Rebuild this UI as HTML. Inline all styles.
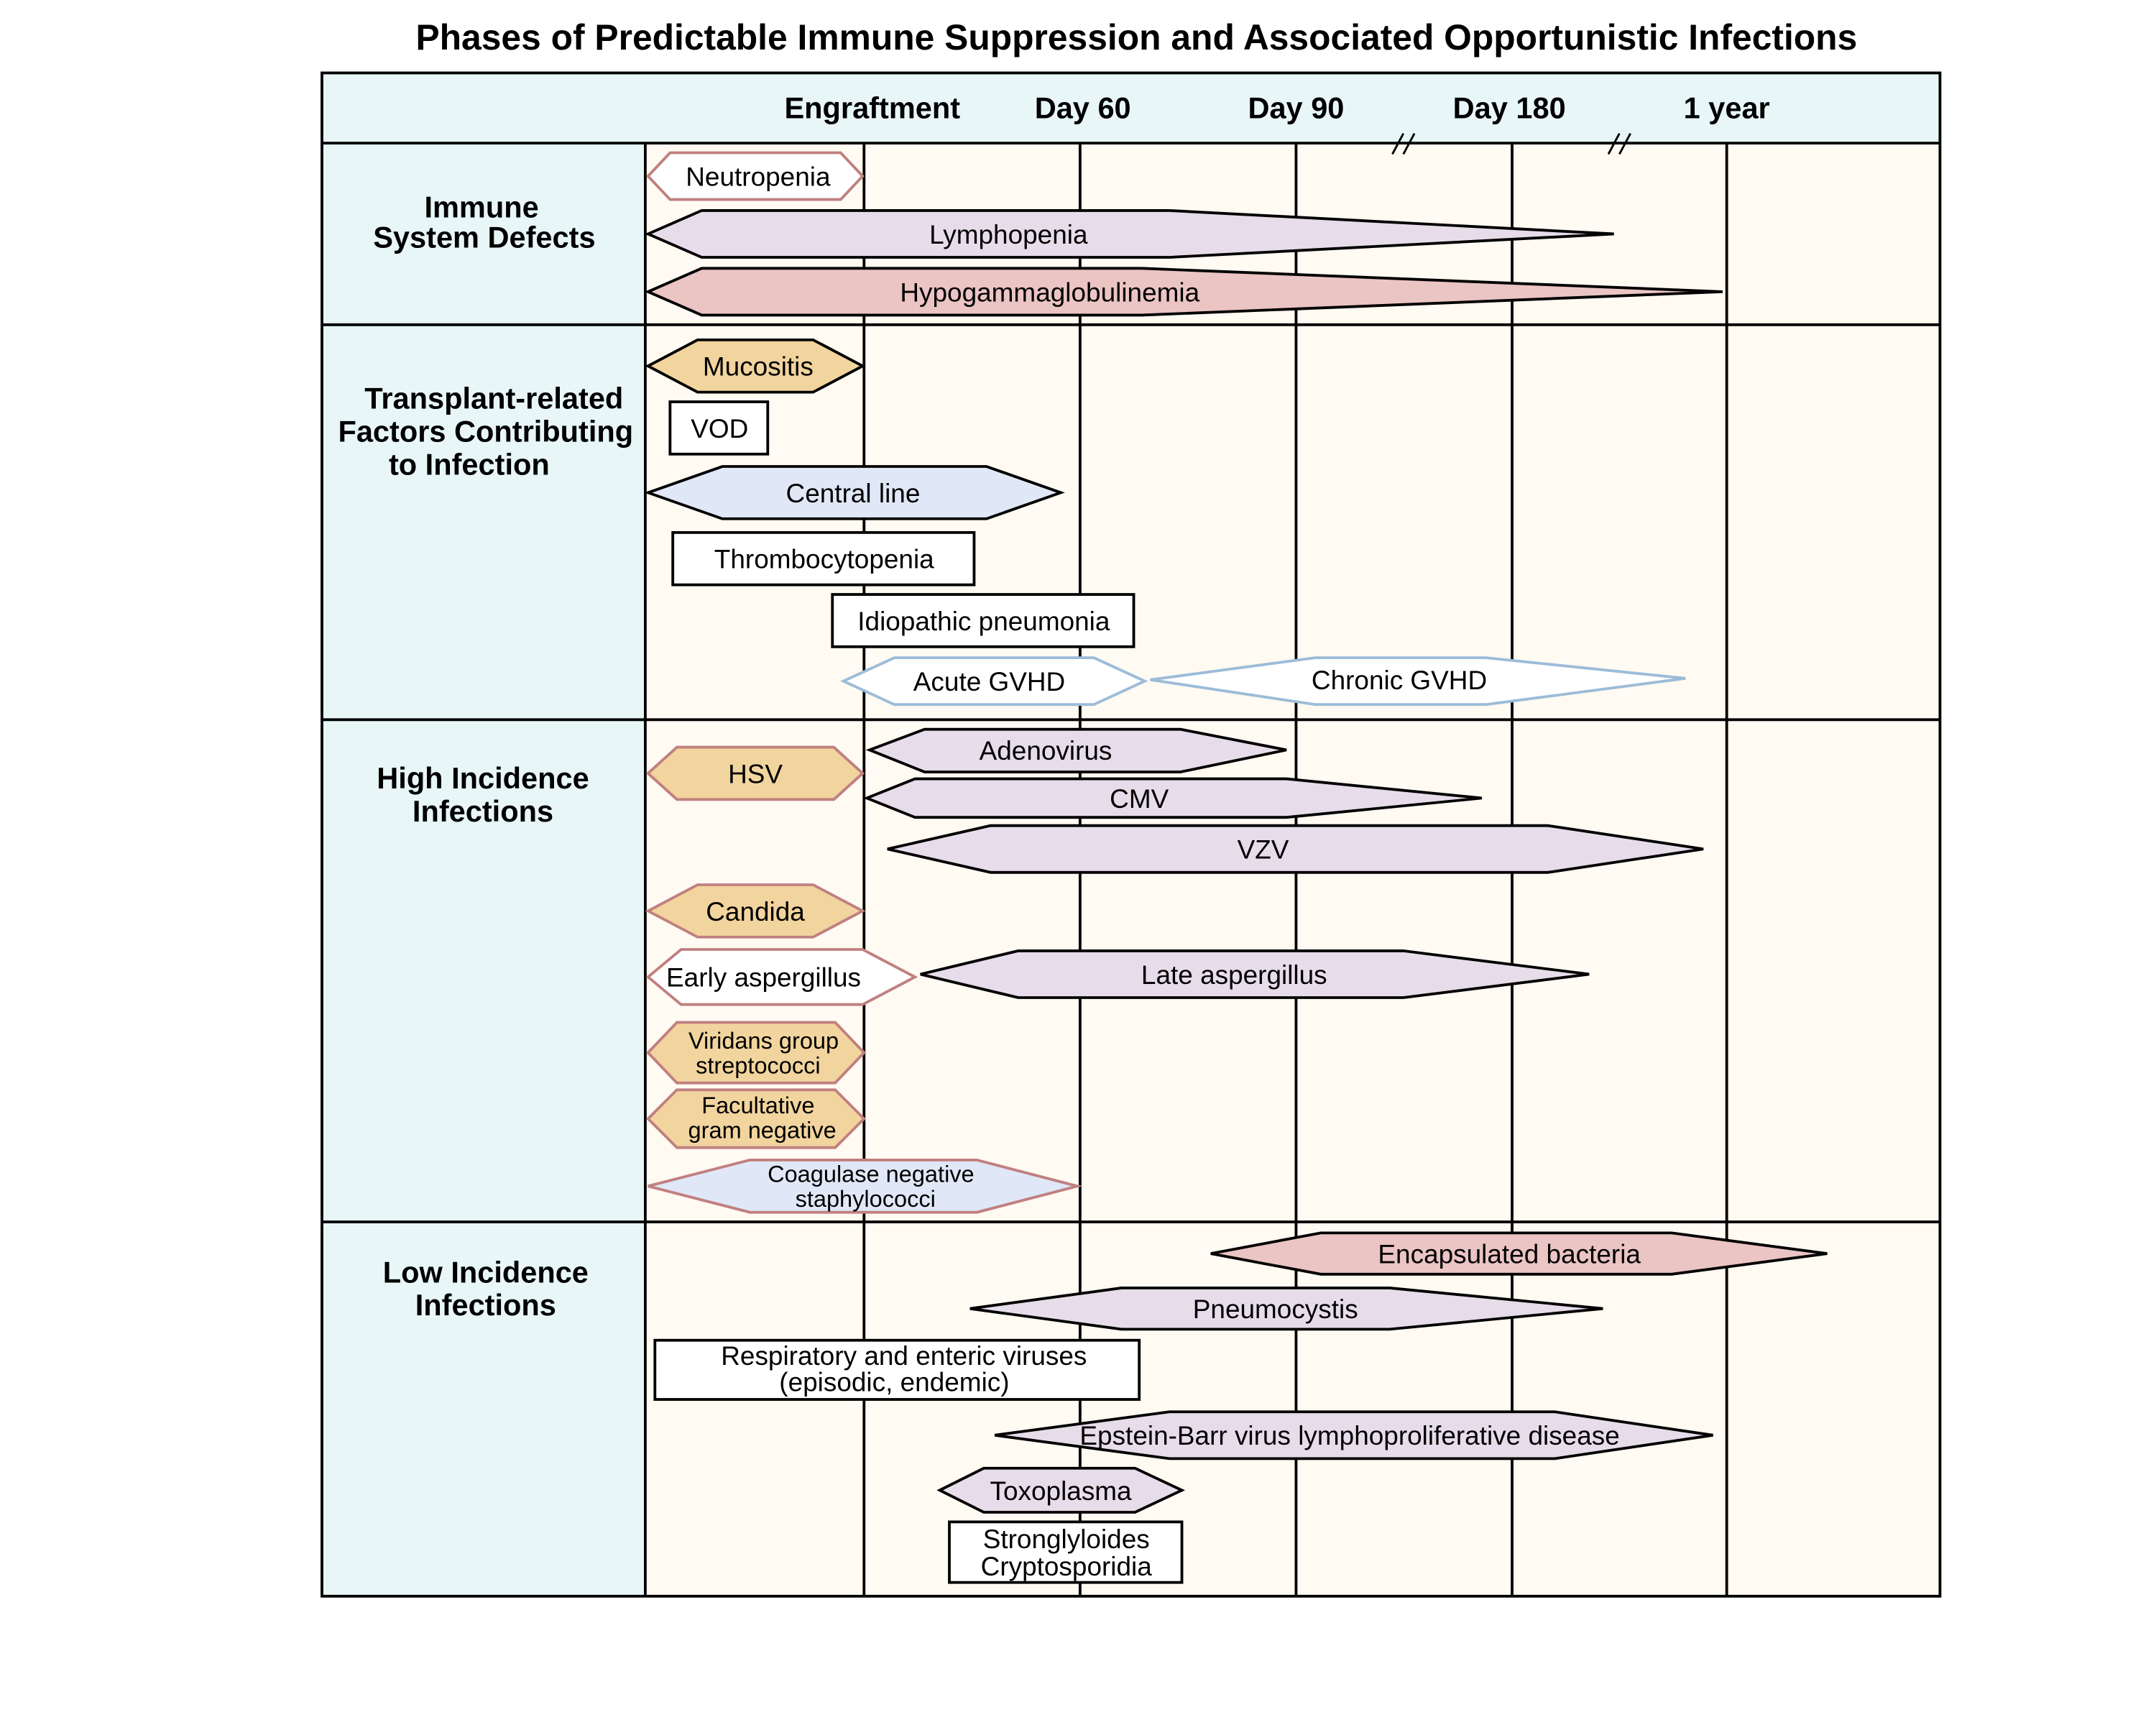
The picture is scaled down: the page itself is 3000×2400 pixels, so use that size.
<!DOCTYPE html>
<html><head><meta charset="utf-8"><style>html,body{margin:0;padding:0;background:#fff}svg{display:block}</style></head>
<body>
<svg width="3000" height="2400" viewBox="0 0 1567 1253.6" xmlns="http://www.w3.org/2000/svg" font-family="Liberation Sans, Arial, sans-serif">
<rect width="1567" height="1254" fill="#fff"/>
<text x="826" y="36" text-anchor="middle" font-size="26" font-weight="bold">Phases of Predictable Immune Suppression and Associated Opportunistic Infections</text>
<rect x="234" y="53" width="1176" height="1107" fill="#fffaf2"/>
<rect x="234" y="53" width="1176" height="51" fill="#e8f6f7"/>
<rect x="234" y="104" width="235" height="1056" fill="#e8f6f7"/>
<g stroke="#000" stroke-width="2" fill="none">
<rect x="234" y="53" width="1176" height="1107"/>
<line x1="234" y1="104" x2="1410" y2="104"/>
<line x1="234" y1="236" x2="1410" y2="236"/>
<line x1="234" y1="523" x2="1410" y2="523"/>
<line x1="234" y1="888" x2="1410" y2="888"/>
<line x1="469" y1="104" x2="469" y2="1160"/>
<line x1="628" y1="104" x2="628" y2="1160"/>
<line x1="785" y1="104" x2="785" y2="1160"/>
<line x1="942" y1="104" x2="942" y2="1160"/>
<line x1="1099" y1="104" x2="1099" y2="1160"/>
<line x1="1255" y1="104" x2="1255" y2="1160"/>
<line x1="1012" y1="112" x2="1020" y2="97" stroke-width="1.5"/><line x1="1020" y1="112" x2="1028" y2="97" stroke-width="1.5"/>
<line x1="1169" y1="112" x2="1177" y2="97" stroke-width="1.5"/><line x1="1177" y1="112" x2="1185" y2="97" stroke-width="1.5"/>
</g>
<g font-size="21.7" font-weight="bold" text-anchor="middle">
<text x="634" y="86">Engraftment</text><text x="787" y="86">Day 60</text><text x="942" y="86">Day 90</text><text x="1097" y="86">Day 180</text><text x="1255" y="86">1 year</text>
<text x="350" y="158">Immune</text><text x="352" y="180">System Defects</text>
<text x="359" y="297">Transplant-related</text><text x="353" y="321">Factors Contributing</text><text x="341" y="345">to Infection</text>
<text x="351" y="573">High Incidence</text><text x="351" y="597">Infections</text>
<text x="353" y="932">Low Incidence</text><text x="353" y="956">Infections</text>
</g>
<g stroke-width="2">
<polygon points="471,128 487,111 611,111 627,128 611,145 487,145" fill="#fff" stroke="#c08080"/>
<polygon points="471,170 510,153 850,153 1173,170 850,187 510,187" fill="#e6dcea" stroke="#000"/>
<polygon points="471,212 510,195 830,195 1252,212 830,229 510,229" fill="#ebc4c4" stroke="#000"/>
<polygon points="471,266 507,247 591,247 627,266 591,285 507,285" fill="#f2d49e" stroke="#000"/>
<rect x="487" y="292" width="71" height="38" fill="#fff" stroke="#000"/>
<polygon points="471,358 525,339 717,339 771,358 717,377 525,377" fill="#e0e8f7" stroke="#000"/>
<rect x="489" y="387" width="219" height="38" fill="#fff" stroke="#000"/>
<rect x="605" y="432" width="219" height="38" fill="#fff" stroke="#000"/>
<polygon points="613,495 650,478 795,478 832,495 795,512 650,512" fill="#fff" stroke="#9bbcd8"/>
<polygon points="836,494 956,478 1080,478 1225,493 1080,512 956,512" fill="#fff" stroke="#9bbcd8"/>
<polygon points="471,562 492,543 606,543 627,562 606,581 492,581" fill="#f2d49e" stroke="#c08080"/>
<polygon points="632,545 672,530 858,530 935,545 858,561 672,561" fill="#e6dcea" stroke="#000"/>
<polygon points="630,580 665,566 935,566 1077,580 935,594 665,594" fill="#e6dcea" stroke="#000"/>
<polygon points="645,617 720,600 1125,600 1238,617 1125,634 720,634" fill="#e6dcea" stroke="#000"/>
<polygon points="471,662 507,643 591,643 627,662 591,681 507,681" fill="#f2d49e" stroke="#c08080"/>
<polygon points="471,710 495,690 627,690 665,710 627,730 495,730" fill="#fff" stroke="#c08080"/>
<polygon points="669,708 740,691 1020,691 1155,708 1020,725 740,725" fill="#e6dcea" stroke="#000"/>
<polygon points="471,765 492,743 607,743 628,765 607,787 492,787" fill="#f2d49e" stroke="#c08080"/>
<polygon points="471,813 492,792 607,792 628,813 607,834 492,834" fill="#f2d49e" stroke="#c08080"/>
<polygon points="471,862 545,843 710,843 783,862 710,881 545,881" fill="#e0e8f7" stroke="#c08080"/>
<polygon points="880,911 960,896 1215,896 1328,911 1215,926 960,926" fill="#ebc4c4" stroke="#000"/>
<polygon points="705,951 815,936 1010,936 1165,951 1010,966 815,966" fill="#e6dcea" stroke="#000"/>
<rect x="476" y="974" width="352" height="43" fill="#fff" stroke="#000"/>
<polygon points="723,1043 850,1026 1130,1026 1245,1043 1130,1060 850,1060" fill="#e6dcea" stroke="#000"/>
<polygon points="683,1083 715,1067 825,1067 859,1083 825,1099 715,1099" fill="#e6dcea" stroke="#000"/>
<rect x="690" y="1106" width="169" height="44" fill="#fff" stroke="#000"/>
</g>
<g font-size="19.3" text-anchor="middle">
<text x="551" y="135">Neutropenia</text>
<text x="733" y="177">Lymphopenia</text>
<text x="763" y="219">Hypogammaglobulinemia</text>
<text x="551" y="273">Mucositis</text>
<text x="523" y="318">VOD</text>
<text x="620" y="365">Central line</text>
<text x="599" y="413">Thrombocytopenia</text>
<text x="715" y="458">Idiopathic pneumonia</text>
<text x="719" y="502">Acute GVHD</text>
<text x="1017" y="501">Chronic GVHD</text>
<text x="549" y="569">HSV</text>
<text x="760" y="552">Adenovirus</text>
<text x="828" y="587">CMV</text>
<text x="918" y="624">VZV</text>
<text x="549" y="669">Candida</text>
<text x="555" y="717">Early aspergillus</text>
<text x="897" y="715">Late aspergillus</text>
<text x="1097" y="918">Encapsulated bacteria</text>
<text x="927" y="958">Pneumocystis</text>
<text x="657" y="992">Respiratory and enteric viruses</text>
<text x="650" y="1011">(episodic, endemic)</text>
<text x="981" y="1050">Epstein-Barr virus lymphoproliferative disease</text>
<text x="771" y="1090">Toxoplasma</text>
<text x="775" y="1125">Stronglyloides</text>
<text x="775" y="1145">Cryptosporidia</text>
</g>
<g font-size="17" text-anchor="middle">
<text x="555" y="762">Viridans group</text><text x="551" y="780">streptococci</text>
<text x="551" y="809">Facultative</text><text x="554" y="827">gram negative</text>
<text x="633" y="859">Coagulase negative</text><text x="629" y="877">staphylococci</text>
</g>
</svg>
</body></html>
